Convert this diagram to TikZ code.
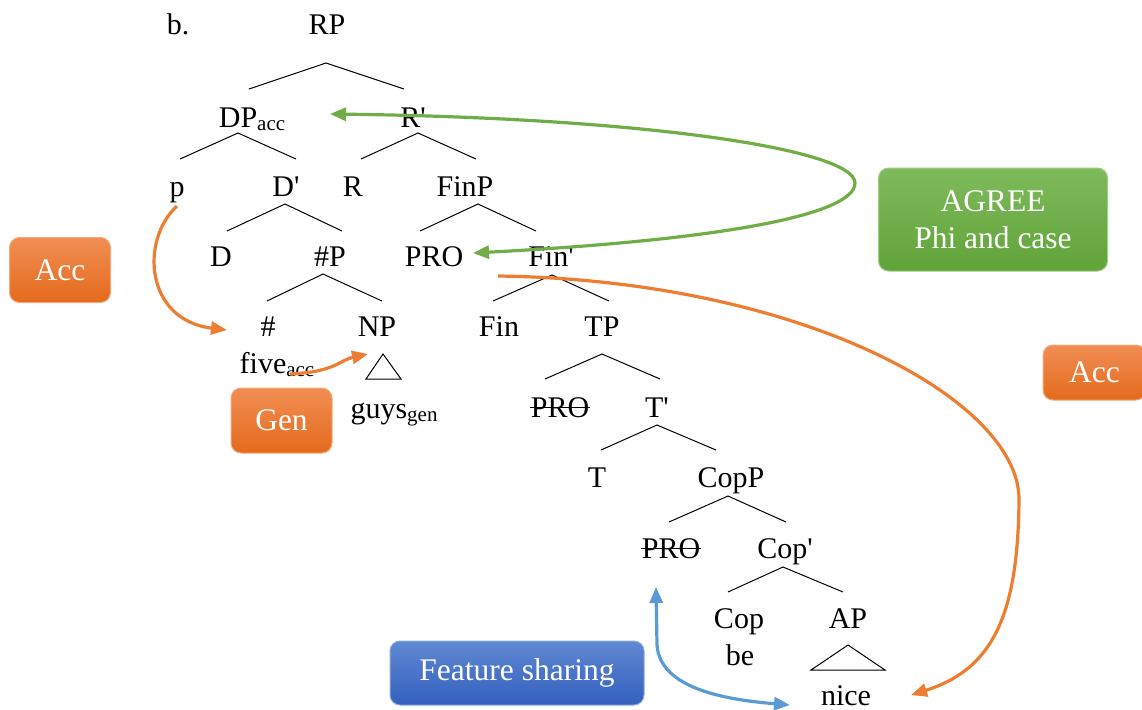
\documentclass[tikz,border=0pt]{standalone}
\usepackage{fontspec}
\setmainfont{Liberation Serif}
\usepackage{tikz}
\usepackage{xcolor}
\usetikzlibrary{arrows.meta,positioning,calc}

\definecolor{accTop}{RGB}{241,142,84}
\definecolor{accBot}{RGB}{228,106,28}
\definecolor{accEdge}{RGB}{244,170,125}
\definecolor{accLine}{RGB}{237,125,49}
\definecolor{agrTop}{RGB}{127,186,92}
\definecolor{agrBot}{RGB}{96,164,56}
\definecolor{agrEdge}{RGB}{160,205,135}
\definecolor{agrLine}{RGB}{112,173,71}
\definecolor{fsTop}{RGB}{96,136,210}
\definecolor{fsBot}{RGB}{50,96,190}
\definecolor{fsEdge}{RGB}{140,170,225}
\definecolor{fsLine}{RGB}{91,155,213}

\newcommand{\lowsub}[1]{\raisebox{-1.5pt}{\fontsize{10.5}{12}\selectfont #1}}
\newcommand{\prm}{\textquotesingle}

\tikzset{
  lab/.style={anchor=base, inner sep=0pt},
  branch/.style={line width=0.5pt},
  casebox/.style={rounded corners=5pt, text=white, align=center, inner sep=0pt,
    font=\fontsize{15.75}{18.5}\selectfont, line width=0.5pt},
  accbox/.style={casebox, top color=accTop, bottom color=accBot, draw=accEdge},
  agrbox/.style={casebox, top color=agrTop, bottom color=agrBot, draw=agrEdge},
  fsbox/.style={casebox, top color=fsTop, bottom color=fsBot, draw=fsEdge},
  accarrow/.style={draw=accLine, line width=1.6pt},
  agrarrow/.style={draw=agrLine, line width=1.6pt},
  fsarrow/.style={draw=fsLine, line width=1.6pt}
}

\begin{document}
\begin{tikzpicture}[x=0.5pt, y=-0.5pt, font=\fontsize{15}{18}\selectfont,
    >={Triangle[length=8pt,width=6.5pt]}]
  \useasboundingbox (0,0) rectangle (1142,709);

  % tree labels
  \foreach \n/\x/\y/\t in {
      b/178/34/b., rp/327/34/RP, dp/252/127/{DP\lowsub{acc}}, rbar/413/127/{R\prm},
      p/177/196/p, dbar/286/196/{D\prm}, r/353/196/R, finp/465/196/FinP,
      d/221/266/D, nump/330/266/\#P, pro1/434/266/PRO, finbar/551/266/{Fin\prm},
      num/268/336/\#, np/377/336/NP, fin/499/336/Fin, tp/602/336/TP,
      five/277/373/{five\lowsub{acc}}, guys/394/418/{guys\lowsub{gen}},
      pro2/560/417/PRO, tbar/657/417/{T\prm},
      t/597/487/T, copp/731/487/CopP,
      pro3/671/558/PRO, copbar/785/558/{Cop\prm},
      cop/739/628/Cop, ap/848/628/AP, be/740/665/be, nice/846/705/nice}
    \node (\n) at (\x,\y) [lab] {\t};

  % branches
  \draw[branch] ([shift={(-3,-38)}]dp.base) -- ([shift={(-1,29)}]rp.base) -- ([shift={(-9,-38)}]rbar.base);
  \draw[branch] ([shift={(3,-37)}]p.base) -- ([shift={(-14,6)}]dp.base) -- ([shift={(10,-37)}]dbar.base);
  \draw[branch] ([shift={(8,-37)}]r.base) -- ([shift={(5,6)}]rbar.base) -- ([shift={(11,-37)}]finp.base);
  \draw[branch] ([shift={(6,-35)}]d.base) -- ([shift={(-1,8)}]dbar.base) -- ([shift={(12,-35)}]nump.base);
  \draw[branch] ([shift={(-14,-35)}]pro1.base) -- ([shift={(13,8)}]finp.base) -- ([shift={(-15,-35)}]finbar.base);
  \draw[branch] ([shift={(-1,-35)}]num.base) -- ([shift={(-7,8)}]nump.base) -- ([shift={(5,-35)}]np.base);
  \draw[branch] ([shift={(-6,-35)}]fin.base) -- ([shift={(1,9)}]finbar.base) -- ([shift={(7,-35)}]tp.base);
  \draw[branch] ([shift={(-15,-38)}]pro2.base) -- ([shift={(0,18)}]tp.base) -- ([shift={(3,-38)}]tbar.base);
  \draw[branch] ([shift={(4,-37)}]t.base) -- ([shift={(0,8)}]tbar.base) -- ([shift={(-15,-37)}]copp.base);
  \draw[branch] ([shift={(-2,-36)}]pro3.base) -- ([shift={(-3,9)}]copp.base) -- ([shift={(1,-36)}]copbar.base);
  \draw[branch] ([shift={(-11,-36)}]cop.base) -- ([shift={(-2,9)}]copbar.base) -- ([shift={(-5,-36)}]ap.base);

  % triangles
  \draw[branch] ([shift={(6,18)}]np.base) -- ([shift={(-11,43)}]np.base) -- ([shift={(24,43)}]np.base) -- cycle;
  \draw[branch] ([shift={(0,17)}]ap.base) -- ([shift={(-37,42)}]ap.base) -- ([shift={(37,42)}]ap.base) -- cycle;

  % struck copies
  \draw[branch] (pro2.west) -- (pro2.east);
  \draw[branch] (pro3.west) -- (pro3.east);

  % boxes
  \node (accl) at (60,270) [accbox, minimum width=50.5pt, minimum height=32.5pt] {Acc};
  \node (gen) at (281.5,420.5) [accbox, minimum width=50.5pt, minimum height=32.5pt] {Gen};
  \node (agree) at (993,219.5) [agrbox, minimum width=114.5pt, minimum height=51.5pt] {AGREE\\Phi and case};
  \node (accr) at (1094.5,372.5) [accbox, minimum width=51.5pt, minimum height=27.5pt] {Acc};
  \node (fs) at (517,673) [fsbox, minimum width=127pt, minimum height=32pt] {Feature sharing};

  % arrows
  \draw[agrarrow, <->] ([shift={(39,-13)}]pro1.base) .. controls (720,240) and (855,215) .. (855,183)
    .. controls (855,150) and (650,118) .. ([shift={(78,-13)}]dp.base);
  \draw[accarrow, ->] ([shift={(-53,10)}]finbar.base) .. controls (800,280) and (1020,400) .. (1019,500)
    .. controls (1018,620) and (990,670) .. ([shift={(65,-10)}]nice.base);
  \draw[accarrow, ->] ([shift={(0,10)}]p.base) .. controls (140,240) and (145,320) .. ([shift={(-41,-6)}]num.base);
  \draw[accarrow, ->] ([shift={(13,1)}]five.base) .. controls (335,372) and (340,360) .. ([shift={(-9,18)}]np.base);
  \draw[fsarrow, <->] ([shift={(-15,29)}]pro3.base) -- (657,645) .. controls (660,690) and (730,700) .. ([shift={(-56,0)}]nice.base);
\end{tikzpicture}
\end{document}
